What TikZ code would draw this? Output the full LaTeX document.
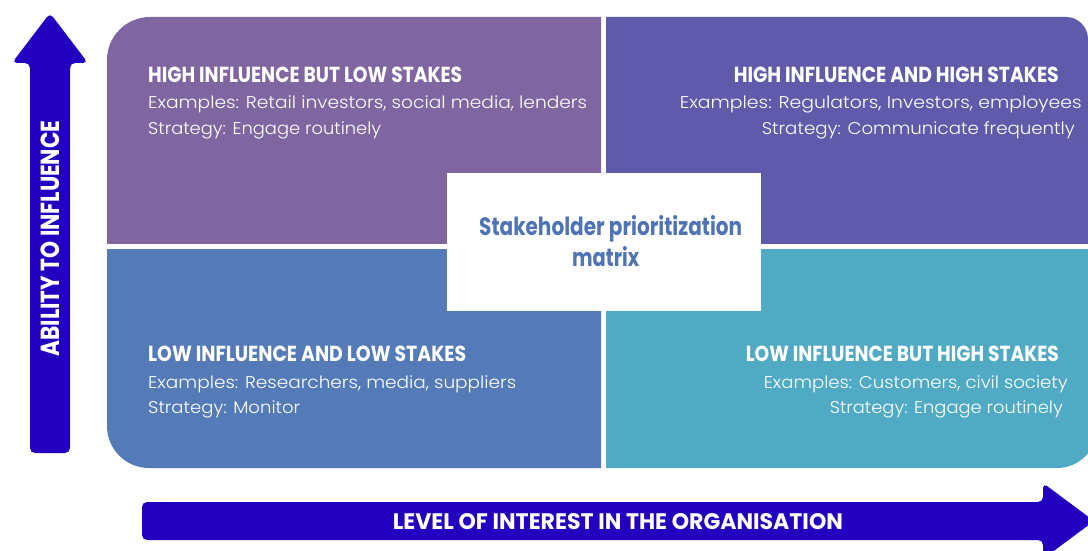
\documentclass[tikz,border=0pt]{standalone}
\usepackage{fontspec}
\usepackage{graphicx}
\setmainfont{Poppins}
\newfontfamily\bodyfont{Poppins Light}
\definecolor{cTL}{HTML}{7F66A0}
\definecolor{cTR}{HTML}{5F5BAA}
\definecolor{cBL}{HTML}{547BB8}
\definecolor{cBR}{HTML}{50AAC4}
\definecolor{cArrow}{HTML}{2300C0}
\definecolor{cTitle}{HTML}{4F74B6}
\newcommand\fitw[3]{\resizebox{#1pt}{#2}{#3}}
\begin{document}
\begin{tikzpicture}[x=1pt,y=-1pt,
  hdr/.style={inner sep=0pt, text=white, font=\bfseries\fontsize{21}{21}\selectfont},
  body/.style={inner sep=0pt, text=white, font=\bodyfont\fontsize{17}{17}\selectfont},
  ttl/.style={inner sep=0pt, text=cTitle, font=\bfseries\fontsize{25}{25}\selectfont},
  axlab/.style={inner sep=0pt, text=white, font=\bfseries\fontsize{25}{25}\selectfont},
  arrowshape/.style={fill=cArrow, rounded corners=5pt},
]
\useasboundingbox (0,0) rectangle (1088,551);
\clip (0,0) rectangle (1088,551);
% quadrants
\begin{scope}
  \clip (107,17) rectangle (601,243);
  \fill[cTL, rounded corners=43pt] (107,17) rectangle (800,400);
\end{scope}
\begin{scope}
  \clip (606,17) rectangle (1088,243);
  \fill[cTR, rounded corners=22pt] (400,17) rectangle (1088,400);
\end{scope}
\begin{scope}
  \clip (107,249) rectangle (601,468);
  \fill[cBL, rounded corners=42pt] (107,100) rectangle (800,468);
\end{scope}
\begin{scope}
  \clip (606,249) rectangle (1088,468);
  \fill[cBR, rounded corners=40pt] (400,100) rectangle (1097,468);
\end{scope}
% centre box
\node[fill=white, minimum width=314pt, minimum height=138pt, inner sep=0pt] (centre) at (604,242) {};
\node[ttl, anchor=base west] (t1) at (479,235) {\fitw{263}{\height}{Stakeholder prioritization}};
\node[ttl, anchor=base west] (t2) at (572,266.5) {\fitw{67}{\height}{matrix}};
% top-left
\node[hdr, anchor=base west] (tlh) at (148,82.5) {\fitw{314}{15.5pt}{HIGH INFLUENCE BUT LOW STAKES}};
\node[body, anchor=base west] (tle) at (148,109) {\fitw{439}{\height}{Examples: Retail investors, social media, lenders}};
\node[body, anchor=base west] (tls) at (148,134.5) {\fitw{233}{\height}{Strategy: Engage routinely}};
% top-right
\node[hdr, anchor=base east] (trh) at (1059,82.5) {\fitw{325}{15.5pt}{HIGH INFLUENCE AND HIGH STAKES}};
\node[body, anchor=base east] (tre) at (1082,109) {\fitw{402}{\height}{Examples: Regulators, Investors, employees}};
\node[body, anchor=base east] (trs) at (1075,134.5) {\fitw{313}{\height}{Strategy: Communicate frequently}};
% bottom-left
\node[hdr, anchor=base west] (blh) at (148,361.5) {\fitw{318}{15.5pt}{LOW INFLUENCE AND LOW STAKES}};
\node[body, anchor=base west] (ble) at (148,388) {\fitw{368}{\height}{Examples: Researchers, media, suppliers}};
\node[body, anchor=base west] (bls) at (148,413) {\fitw{152}{\height}{Strategy: Monitor}};
% bottom-right
\node[hdr, anchor=base east] (brh) at (1059,361.5) {\fitw{313}{15.5pt}{LOW INFLUENCE BUT HIGH STAKES}};
\node[body, anchor=base east] (bre) at (1068,388) {\fitw{304}{\height}{Examples: Customers, civil society}};
\node[body, anchor=base east] (brs) at (1063,413) {\fitw{233}{\height}{Strategy: Engage routinely}};
% vertical arrow
\fill[arrowshape] (30,453) -- (30,63) -- (12,63) -- (50,13) -- (88,63) -- (70,63) -- (70,453) -- cycle;
\node[axlab, rotate=90, anchor=base] (ylab) at (59.3,238.5) {\fitw{236}{18.6pt}{ABILITY TO INFLUENCE}};
% horizontal arrow
\fill[arrowshape] (142,502) -- (1043,502) -- (1043,483) -- (1094,521) -- (1043,559) -- (1043,540) -- (142,540) -- cycle;
\node[axlab, anchor=base west] (xlab) at (392.7,529.3) {\fitw{450}{16pt}{LEVEL OF INTEREST IN THE ORGANISATION}};
\end{tikzpicture}
\end{document}
